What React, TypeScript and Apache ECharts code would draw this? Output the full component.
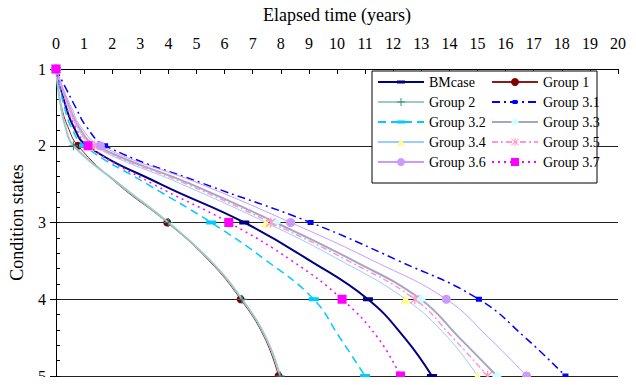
import React, { useEffect, useRef } from "react";
import * as echarts from "echarts";

const states = [1, 1.25, 1.5, 1.75, 2, 2.5, 3, 3.5, 4, 4.5, 5];

// Elapsed time (years) at each state, per series
const bmCase = [0, 0.17, 0.36, 0.62, 1.1, 3.72, 6.7, 9.05, 11.1, 12.4, 13.38];
const group1 = [0, 0.08, 0.2, 0.42, 0.78, 2.2, 3.96, 5.45, 6.57, 7.42, 7.92];
const group2 = [0, 0.07, 0.18, 0.33, 0.62, 2.25, 4.0, 5.5, 6.62, 7.47, 7.98];
const group31 = [0, 0.35, 0.7, 1.08, 1.75, 5.3, 9.06, 12.2, 15.05, 16.7, 18.13];
const group32 = [0, 0.14, 0.3, 0.53, 1.0, 3.25, 5.52, 7.5, 9.17, 10.1, 11.0];
const group33 = [0, 0.22, 0.48, 0.8, 1.42, 4.8, 7.82, 10.6, 12.98, 14.35, 15.69];
const group34 = [0, 0.2, 0.44, 0.74, 1.3, 4.47, 7.47, 10.15, 12.44, 13.95, 15.0];
const group35 = [0, 0.21, 0.46, 0.77, 1.36, 4.65, 7.64, 10.4, 12.77, 14.12, 15.36];
const group36 = [0, 0.25, 0.55, 0.88, 1.58, 5.15, 8.35, 11.3, 13.89, 15.4, 16.75];
const group37 = [0, 0.16, 0.37, 0.68, 1.14, 3.46, 6.15, 8.4, 10.18, 11.45, 12.26];

const seriesNames = [
  "BMcase", "Group 1", "Group 2", "Group 3.1", "Group 3.2",
  "Group 3.3", "Group 3.4", "Group 3.5", "Group 3.6", "Group 3.7",
];
const legendLeft = ["BMcase", "Group 2", "Group 3.2", "Group 3.4", "Group 3.6"];
const legendRight = ["Group 1", "Group 3.1", "Group 3.3", "Group 3.5", "Group 3.7"];

const xMin = 0;
const xMax = 20;
const yMin = 1;
const yMax = 5;

const FONT = "'Liberation Serif', 'Times New Roman', serif";

// tiny corner dots keep the symbol's box square so thin bars keep their shape
const corners = " M0,0h0.01v0.01h-0.01z M9.99,9.99h0.01v0.01h-0.01z";
const barPath = "path://M0,3h10v4h-10z" + corners;
const smallRectPath = "path://M2,2.5h6v5h-6z" + corners;
const plusPath =
  "path://M4.4,0h1.2v4.4h4.4v1.2h-4.4v4.4h-1.2v-4.4h-4.4v-1.2h4.4z";
const starPath =
  "path://M4.4,0h1.2v10h-1.2z M0.6,1.4l0.8,-0.8l8,8l-0.8,0.8z M8.6,0.6l0.8,0.8l-8,8l-0.8,-0.8z";

function build(times: number[]) {
  return times.map((t, i) => {
    const s = states[i];
    if (Number.isInteger(s)) return [t, s];
    return { value: [t, s], symbol: "none" };
  });
}

const styles: Record<string, any> = {
  BMcase: { line: "#000080", width: 2, type: "solid", symbol: barPath, size: 10, mark: "#000080" },
  "Group 1": { line: "#8B1A1A", width: 1, type: "solid", symbol: "circle", size: 8, mark: "#800000" },
  "Group 2": { line: "#9CCACA", width: 2, type: "solid", symbol: plusPath, size: 9, mark: "#2E8B8B" },
  "Group 3.1": { line: "#0000FF", width: 1.5, type: [8, 4, 2, 4], symbol: smallRectPath, size: 10, mark: "#0000FF" },
  "Group 3.2": { line: "#00CCFF", width: 1.5, type: [8, 5], symbol: barPath, size: 10, mark: "#00CCFF" },
  "Group 3.3": { line: "#A6A6C4", width: 2, type: "solid", symbol: "diamond", size: 10, mark: "#CCFFFF" },
  "Group 3.4": { line: "#99CCFF", width: 1, type: "solid", symbol: "triangle", size: 10, mark: "#FFFF99" },
  "Group 3.5": { line: "#FF99CC", width: 1.5, type: [6, 3, 2, 3], symbol: starPath, size: 10, mark: "#FF99CC" },
  "Group 3.6": { line: "#CC99FF", width: 1, type: "solid", symbol: "circle", size: 9, mark: "#CC99FF" },
  "Group 3.7": { line: "#FF00FF", width: 1.5, type: [2, 4], symbol: "rect", size: 9, mark: "#FF00FF" },
};

const dataByName: Record<string, number[]> = {
  BMcase: bmCase,
  "Group 1": group1,
  "Group 2": group2,
  "Group 3.1": group31,
  "Group 3.2": group32,
  "Group 3.3": group33,
  "Group 3.4": group34,
  "Group 3.5": group35,
  "Group 3.6": group36,
  "Group 3.7": group37,
};

export default function App() {
  const ref = useRef<HTMLDivElement>(null);
  useEffect(() => {
    if (!ref.current) return;
    const chart = echarts.init(ref.current, null, { renderer: "svg" });
    const legendCommon = {
      orient: "vertical",
      top: 75,
      itemWidth: 46,
      itemHeight: 10,
      itemGap: 6,
      padding: 0,
      z: 20,
      textStyle: { fontFamily: FONT, fontSize: 14, color: "#000" },
      selectedMode: false,
    };
    chart.setOption({
      animation: false,
      backgroundColor: "#fff",
      textStyle: { fontFamily: FONT },
      grid: { left: 52, right: 18, top: 69, bottom: 9, containLabel: false },
      graphic: [
        {
          type: "rect",
          z: 10,
          shape: { x: 372, y: 71, width: 225, height: 112 },
          style: { fill: "#fff", stroke: "#000", lineWidth: 1 },
        },
      ],
      legend: [
        { ...legendCommon, left: 377, data: legendLeft },
        { ...legendCommon, left: 491, data: legendRight },
      ],
      xAxis: {
        type: "value",
        position: "top",
        min: xMin,
        max: xMax,
        interval: 1,
        name: "Elapsed time (years)",
        nameLocation: "middle",
        nameGap: 45,
        nameTextStyle: { fontFamily: FONT, fontSize: 18, color: "#000" },
        axisLine: { show: true, lineStyle: { color: "#000", width: 1 } },
        axisTick: { show: true, inside: true, length: 5, lineStyle: { color: "#000" } },
        axisLabel: { fontFamily: FONT, fontSize: 16, color: "#000", margin: 18 },
        splitLine: { show: false },
      },
      yAxis: [
        {
          type: "value",
          position: "left",
          inverse: true,
          min: yMin,
          max: yMax,
          interval: 1,
          name: "Condition states",
          nameLocation: "middle",
          nameGap: 30,
          nameRotate: 90,
          nameTextStyle: { fontFamily: FONT, fontSize: 18, color: "#000" },
          axisLine: { show: true, lineStyle: { color: "#000", width: 1 } },
          axisTick: { show: true, inside: false, length: 6, lineStyle: { color: "#000" } },
          axisLabel: { fontFamily: FONT, fontSize: 16, color: "#000", margin: 10 },
          splitLine: { show: true, lineStyle: { color: "#222", width: 1 } },
        },
        {
          type: "value",
          position: "left",
          inverse: true,
          min: yMin,
          max: yMax,
          interval: 0.2,
          axisLine: { show: true, lineStyle: { color: "#000", width: 1 } },
          axisTick: { show: true, inside: true, length: 4, lineStyle: { color: "#000" } },
          axisLabel: { show: false },
          splitLine: { show: false },
        },
      ],
      series: seriesNames.map((name, idx) => {
        const st = styles[name];
        return {
          name,
          type: "line",
          xAxisIndex: 0,
          yAxisIndex: 0,
          z: 2 + idx * 0.01,
          clip: false,
          data: build(dataByName[name]),
          smooth: 0.45,
          symbol: st.symbol,
          symbolSize: st.size,
          showSymbol: true,
          showAllSymbol: true,
          lineStyle: { color: st.line, width: st.width, type: st.type },
          itemStyle: { color: st.mark, borderWidth: 0 },
          emphasis: { disabled: true },
        };
      }),
    });
    return () => chart.dispose();
  }, []);
  return <div ref={ref} style={{ width: 636, height: 385, margin: -8 }} />;
}
